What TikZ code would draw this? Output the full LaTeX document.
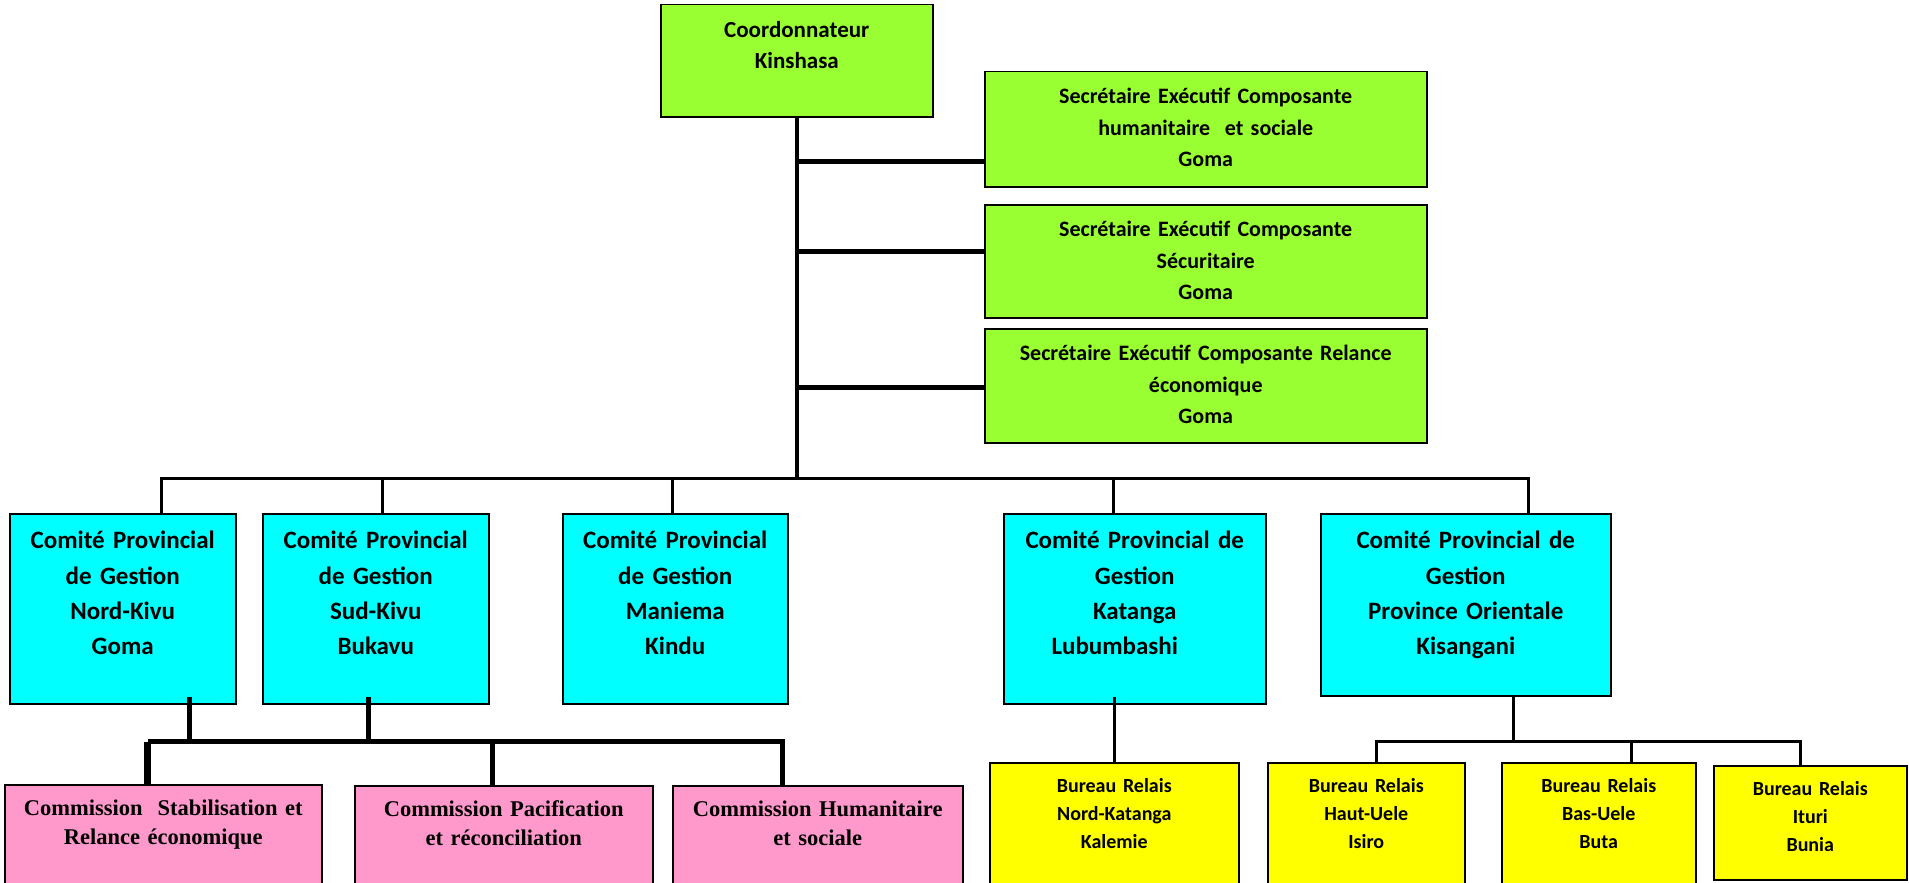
\documentclass[tikz,border=0pt]{standalone}
\usepackage{fontspec}
\setmainfont{Carlito}
\newfontfamily\romainfont{Liberation Serif}
\usetikzlibrary{positioning}
\definecolor{vertcoord}{RGB}{153,255,51}
\definecolor{cyancomite}{RGB}{0,255,255}
\definecolor{rosecomm}{RGB}{255,153,204}
\definecolor{jaunebureau}{RGB}{255,255,0}

\begin{document}
\begin{tikzpicture}[every node/.style={draw=black, line width=1.5pt, inner sep=0pt, align=center},
                    taille/.style n args={4}{minimum width=#1, text width=#1, minimum height=#2, text height=#3, text depth=#4},
                    coordo/.style={fill=vertcoord, font=\bfseries\fontsize{23}{31}\selectfont},
                    secret/.style={fill=vertcoord, font=\bfseries\fontsize{22}{31.5}\selectfont},
                    comite/.style={fill=cyancomite, font=\bfseries\fontsize{25}{35.3}\selectfont},
                    commission/.style={fill=rosecomm, font=\romainfont\bfseries\fontsize{22.5}{29}\selectfont},
                    relais/.style={fill=jaunebureau, font=\bfseries\fontsize{20}{28}\selectfont},
                    tronc/.style={line width=4pt},
                    branche/.style={line width=3pt},
                    epais/.style={line width=5pt}]
                    \useasboundingbox (0pt,0pt) rectangle (1909pt,-883pt);
                    \coordinate[anchor=center](o);
                    % coordination et secretaires
                    \node[coordo, taille={272pt}{112pt}{33pt}{79pt}, below right=4pt and 660pt of o](coord){Coordonnateur\\Kinshasa};
                    \node[secret, taille={442pt}{115pt}{32pt}{83pt}, below right=71pt and 984pt of o](sec1){Secrétaire Exécutif Composante\\humanitaire\ \ et sociale\\Goma};
                    \node[secret, taille={442pt}{113pt}{32pt}{81pt}, below right=204pt and 984pt of o](sec2){Secrétaire Exécutif Composante\\Sécuritaire\\Goma};
                    \node[secret, taille={442pt}{114pt}{32pt}{82pt}, below right=328pt and 984pt of o](sec3){Secrétaire Exécutif Composante Relance\\économique\\Goma};
                    % comites provinciaux
                    \node[comite, taille={226pt}{190pt}{35pt}{155pt}, below right=513pt and 9pt of o](nk){Comité Provincial\\de Gestion\\Nord-Kivu\\Goma};
                    \node[comite, taille={226pt}{190pt}{35pt}{155pt}, below right=513pt and 262pt of o](sk){Comité Provincial\\de Gestion\\Sud-Kivu\\Bukavu};
                    \node[comite, taille={225pt}{190pt}{35pt}{155pt}, below right=513pt and 562pt of o](man){Comité Provincial\\de Gestion\\Maniema\\Kindu};
                    \node[comite, taille={262pt}{190pt}{35pt}{155pt}, below right=513pt and 1003pt of o](kat){Comité Provincial de\\Gestion\\Katanga\\Lubumbashi\rule{40pt}{0pt}};
                    \node[comite, taille={290pt}{182pt}{35pt}{147pt}, below right=513pt and 1320pt of o](ori){Comité Provincial de\\Gestion\\Province Orientale\\Kisangani};
                    % commissions
                    \node[commission, taille={317pt}{102pt}{31pt}{71pt}, below right=784pt and 4pt of o](com1){Commission\ \ Stabilisation et\\Relance économique};
                    \node[commission, taille={298pt}{101pt}{31pt}{70pt}, below right=785pt and 354pt of o](com2){Commission Pacification\\et réconciliation};
                    \node[commission, taille={290pt}{101pt}{31pt}{70pt}, below right=785pt and 672pt of o](com3){Commission Humanitaire\\et sociale};
                    % bureaux relais
                    \node[relais, taille={249pt}{124pt}{30pt}{94pt}, below right=762pt and 989pt of o](nkat){Bureau Relais\\Nord-Katanga\\Kalemie};
                    \node[relais, taille={197pt}{124pt}{30pt}{94pt}, below right=762pt and 1267pt of o](haut){Bureau Relais\\Haut-Uele\\Isiro};
                    \node[relais, taille={194pt}{124pt}{30pt}{94pt}, below right=762pt and 1501pt of o](bas){Bureau Relais\\Bas-Uele\\Buta};
                    \node[relais, taille={193pt}{114pt}{30pt}{84pt}, below right=765pt and 1713pt of o](ituri){Bureau Relais\\Ituri\\Bunia};
                    % points de jonction
                    \coordinate[below=361pt of coord.south](bus);
                    \coordinate[below=32.5pt of sec1.west](s1);
                    \coordinate[above=9.5pt of sec2.west](s2);
                    \coordinate[below=2pt of sec3.west](s3);
                    \coordinate[right=39pt of nk.north](dnk);
                    \coordinate[right=7pt of sk.north](dsk);
                    \coordinate[left=2.5pt of man.north](dman);
                    \coordinate[left=21pt of kat.north](dkat);
                    \coordinate[right=63pt of ori.north](dori);
                    \coordinate[below=37pt of nk.south](buscomm);
                    \coordinate[above right=8pt and 67pt of nk.south](unk);
                    \coordinate[above left=8pt and 7pt of sk.south](usk);
                    \coordinate[left=15.5pt of com1.north](c1);
                    \coordinate[left=11pt of com2.north](c2);
                    \coordinate[left=35pt of com3.north](c3);
                    \coordinate[above left=8pt and 20.5pt of kat.south](ukat);
                    \coordinate[below=45pt of ori.south](busbur);
                    \coordinate[right=48pt of ori.south](uori);
                    \coordinate[right=10.5pt of haut.north](b1);
                    \coordinate[right=33pt of bas.north](b2);
                    \coordinate[left=9.5pt of ituri.north](b3);
                    % liaisons
                    \draw[tronc] (coord.south) -- (bus);
                    \foreach \s in {s1, s2, s3}
                        \draw[epais] (coord.south |- \s) -- (\s);
                    \draw[branche] (dnk) |- (bus) -| (dori);
                    \foreach \d in {dsk, dman, dkat}
                        \draw[branche] (\d) -- (\d |- bus);
                    \draw[epais] (c1 |- buscomm) -| (c3);
                    \draw[line width=7pt] (c1) -- (c1 |- buscomm);
                    \foreach \d in {unk, usk, c2}
                        \draw[epais] (\d) -- (\d |- buscomm);
                    \draw[branche] (ukat) -- (ukat |- nkat.north);
                    \draw[branche] (uori) -- (uori |- busbur);
                    \draw[branche] (b1) |- (busbur) -| (b3);
                    \draw[branche] (b2) -- (b2 |- busbur);
                \end{tikzpicture}
\end{document}
